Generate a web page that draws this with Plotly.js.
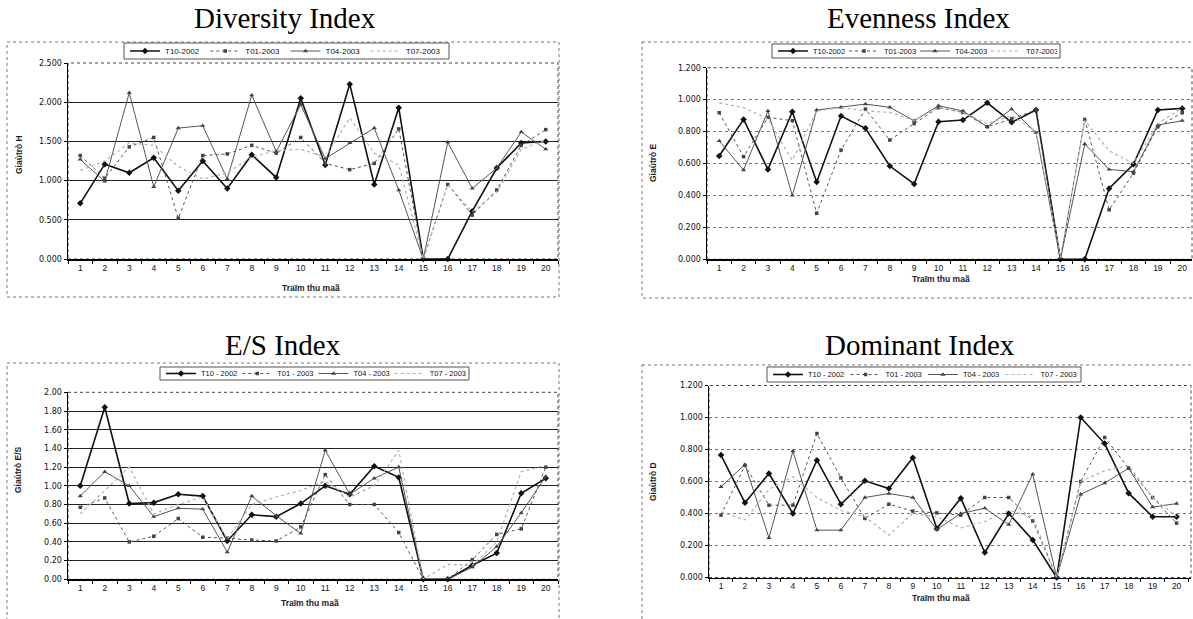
<!DOCTYPE html>
<html><head><meta charset="utf-8">
<script src="https://cdn.plot.ly/plotly-3.0.1.min.js"></script>
<style>html,body{margin:0;padding:0;background:#fff;overflow:hidden}#chart{width:1193px;height:619px}</style>
</head><body><div id="chart"></div><script>
// ---------------- DATA ----------------
const stations = ['1','2','3','4','5','6','7','8','9','10','11','12','13','14','15','16','17','18','19','20'];
const seriesNames = ['T10-2002','T01-2003','T04-2003','T07-2003'];
const seriesNamesSpaced = ['T10 - 2002','T01 - 2003','T04 - 2003','T07 - 2003'];

const diversityT10 = [0.71,1.21,1.10,1.29,0.87,1.25,0.90,1.33,1.04,2.05,1.20,2.23,0.95,1.93,0,0,0.61,1.16,1.48,1.50];
const diversityT01 = [1.32,1.03,1.43,1.55,0.52,1.32,1.34,1.45,1.35,1.55,1.22,1.14,1.22,1.66,0,0.95,0.56,0.88,1.45,1.65];
const diversityT04 = [1.27,0.99,2.12,0.92,1.67,1.70,1.02,2.09,1.37,1.97,1.28,1.48,1.67,0.88,0,1.49,0.90,1.16,1.62,1.40];
const diversityT07 = [1.13,1.25,1.48,1.45,1.18,1.02,1.10,1.30,1.38,1.40,1.30,1.80,1.35,1.20,0,0.95,0.60,0.85,1.40,1.52];

const evennessT10 = [0.647,0.876,0.563,0.924,0.484,0.897,0.82,0.584,0.472,0.862,0.872,0.98,0.858,0.935,0,0,0.444,0.595,0.935,0.945];
const evennessT01 = [0.918,0.643,0.889,0.868,0.288,0.684,0.941,0.747,0.85,0.95,0.92,0.83,0.88,0.935,0,0.876,0.31,0.54,0.83,0.918];
const evennessT04 = [0.741,0.559,0.929,0.40,0.935,0.952,0.972,0.952,0.868,0.962,0.929,0.83,0.941,0.793,0,0.722,0.563,0.549,0.841,0.868];
const evennessT07 = [0.98,0.95,0.88,0.62,0.93,0.95,0.93,0.92,0.87,0.95,0.92,0.85,0.90,0.80,0.01,0.87,0.68,0.60,0.85,0.95];

const esT10 = [1.00,1.84,0.81,0.82,0.91,0.89,0.41,0.69,0.67,0.81,1.00,0.91,1.21,1.09,0,0,0.15,0.28,0.92,1.08];
const esT01 = [0.77,0.87,0.40,0.46,0.65,0.45,0.44,0.42,0.41,0.56,1.12,0.80,0.80,0.50,0,0,0.21,0.48,0.54,1.20];
const esT04 = [0.89,1.15,1.00,0.67,0.76,0.75,0.29,0.89,0.68,0.49,1.38,0.91,1.08,1.20,0,0,0.13,0.35,0.71,1.10];
const esT07 = [0.70,0.95,1.20,0.70,0.80,0.88,0.43,0.80,0.88,0.95,1.05,0.88,1.00,1.38,0,0.16,0.15,0.40,1.15,1.22];

const dominantT10 = [0.765,0.467,0.65,0.40,0.733,0.458,0.604,0.556,0.748,0.306,0.496,0.156,0.40,0.235,0,1.00,0.837,0.527,0.38,0.38];
const dominantT01 = [0.39,0.70,0.452,0.452,0.90,0.623,0.369,0.458,0.415,0.404,0.39,0.50,0.50,0.354,0,0.60,0.875,0.683,0.50,0.34];
const dominantT04 = [0.567,0.706,0.248,0.79,0.296,0.296,0.50,0.525,0.50,0.30,0.40,0.433,0.33,0.646,0,0.52,0.59,0.683,0.44,0.462];
const dominantT07 = [0.41,0.36,0.55,0.63,0.50,0.42,0.38,0.265,0.40,0.38,0.31,0.35,0.42,0.38,0,0.60,0.667,0.70,0.50,0.38];

const ticks25 = [0,0.5,1,1.5,2,2.5];
const ticks25Text = ['0.000','0.500','1.000','1.500','2.000','2.500'];
const ticks12 = [0,0.2,0.4,0.6,0.8,1.0,1.2];
const ticks12Text = ['0.000','0.200','0.400','0.600','0.800','1.000','1.200'];
const ticks20 = [0,0.2,0.4,0.6,0.8,1.0,1.2,1.4,1.6,1.8,2.0];
const ticks20Text = ['0.00','0.20','0.40','0.60','0.80','1.00','1.20','1.40','1.60','1.80','2.00'];

const chartTitles = ['Diversity Index','Evenness Index','E/S Index','Dominant Index'];
const yTitles = ['Giaùtrò H','Giaùtrò E','Giaùtrò E/S','Giaùtrò D'];
const xTitle = 'Traïm thu maã';

// ---------------- LAYOUT HELPERS ----------------
const W = 1193, H = 619;
const px = x => x / W;
const py = y => 1 - y / H;

const panels = [
  {data:[diversityT10,diversityT01,diversityT04,diversityT07], names:seriesNames,
   xd:[68,558], yd:[63,259], xr:[-0.5,19.5], yr:[0,2.5], tv:ticks25, tt:ticks25Text,
   grid:{color:'#222', dash:'solid', width:1},
   frame:[7,42,559,297], leg:[124,43,449,59], legFont:8, title:[285,18], ytitle:[19,155], xtitle:[311,288]},
  {data:[evennessT10,evennessT01,evennessT04,evennessT07], names:seriesNames,
   xd:[707,1192], yd:[67.7,259.3], xr:[-0.5,19.4], yr:[0,1.2], tv:ticks12, tt:ticks12Text,
   grid:{color:'#777', dash:'dot', width:1},
   frame:[642,42,1200,298], leg:[772,44,1060,58], legFont:7.5, title:[918,18], ytitle:[653,163], xtitle:[941,279]},
  {data:[esT10,esT01,esT04,esT07], names:seriesNamesSpaced,
   xd:[68,558], yd:[392.3,579.3], xr:[-0.5,19.5], yr:[0,2], tv:ticks20, tt:ticks20Text,
   grid:{color:'#222', dash:'solid', width:1},
   frame:[7,363,559,630], leg:[160,367,469,380], legFont:7.5, title:[283,345], ytitle:[18,470], xtitle:[310,603]},
  {data:[dominantT10,dominantT01,dominantT04,dominantT07], names:seriesNamesSpaced,
   xd:[709,1191], yd:[385.5,577.5], xr:[-0.5,19.6], yr:[0,1.2], tv:ticks12, tt:ticks12Text,
   grid:{color:'#777', dash:'dot', width:1},
   frame:[642,365,1200,630], leg:[767,367,1081,382], legFont:7.5, title:[920,345], ytitle:[653,482], xtitle:[941,598]}
];

const styles = [
  {mode:'lines+markers', line:{color:'#111', width:1.6, dash:'solid'}, marker:{symbol:'diamond', size:5, color:'#111'}},
  {mode:'lines+markers', line:{color:'#555', width:1, dash:'dot'}, marker:{symbol:'square', size:3.5, color:'#444'}},
  {mode:'lines+markers', line:{color:'#555', width:1, dash:'solid'}, marker:{symbol:'triangle-up', size:4.5, color:'#444'}},
  {mode:'lines', line:{color:'#b0b0b0', width:1.2, dash:'dot'}}
];

const traces = [];
const layout = {
  width: W, height: H, margin:{l:0,r:0,t:0,b:0}, paper_bgcolor:'#fff', plot_bgcolor:'rgba(0,0,0,0)',
  showlegend:true, shapes:[], annotations:[]
};

panels.forEach((p, i) => {
  const sfx = i === 0 ? '' : String(i + 1);
  const legName = 'legend' + sfx;
  p.data.forEach((vals, s) => {
    traces.push(Object.assign({
      type:'scatter', x: stations, y: vals, name: p.names[s],
      xaxis:'x' + sfx, yaxis:'y' + sfx, legend: legName, cliponaxis:false,
      hoverinfo:'skip'
    }, JSON.parse(JSON.stringify(styles[s]))));
  });
  layout['xaxis' + sfx] = {
    type:'category', domain:[px(p.xd[0]), px(p.xd[1])], range:p.xr, anchor:'y' + sfx,
    showgrid:false, zeroline:false, showline:true, linecolor:'#000', linewidth:1.5,
    ticks:'outside', tickson:'boundaries', ticklen:3, tickcolor:'#000',
    tickfont:{family:'Liberation Sans, Arial, sans-serif', size:8.5, color:'#111'}, fixedrange:true
  };
  layout['yaxis' + sfx] = {
    domain:[py(p.yd[1]), py(p.yd[0])], range:p.yr, anchor:'x' + sfx,
    tickvals:p.tv, ticktext:p.tt, showgrid:true, gridcolor:p.grid.color, griddash:p.grid.dash, gridwidth:p.grid.width,
    zeroline:false, showline:true, linecolor:'#000', linewidth:1.5,
    ticks:'outside', ticklen:3, tickcolor:'#000',
    tickfont:{family:'DejaVu Sans, sans-serif', size:8, color:'#111'}, fixedrange:true
  };
  const spacing = (p.leg[2] - p.leg[0] - 4) / 4;
  layout[legName] = {
    x: px(p.leg[0] + 1), y: py((p.leg[1] + p.leg[3]) / 2), xanchor:'left', yanchor:'middle',
    orientation:'h', bgcolor:'rgba(0,0,0,0)', borderwidth:0,
    font:{family:'Liberation Sans, Arial, sans-serif', size:p.legFont, color:'#111'},
    entrywidth: spacing - 45, itemwidth:30, traceorder:'normal', tracegroupgap:0
  };
  // outer frame
  layout.shapes.push({type:'rect', xref:'paper', yref:'paper', x0:px(p.frame[0]), x1:px(p.frame[2]),
    y0:py(p.frame[1]), y1:py(p.frame[3]), line:{color:'#777', width:1, dash:'dot'}, layer:'below'});
  // plot area border (top/right)
  layout.shapes.push({type:'rect', xref:'paper', yref:'paper', x0:px(p.xd[0]), x1:px(p.xd[1]),
    y0:py(p.yd[1]), y1:py(p.yd[0]), line:{color:'#444', width:1, dash:'dot'}, layer:'below'});
  // legend box
  layout.shapes.push({type:'rect', xref:'paper', yref:'paper', x0:px(p.leg[0]), x1:px(p.leg[2]),
    y0:py(p.leg[3]), y1:py(p.leg[1]), line:{color:'#555', width:1}, fillcolor:'#fff', layer:'below'});
  // titles
  layout.annotations.push({text:chartTitles[i], xref:'paper', yref:'paper', x:px(p.title[0]), y:py(p.title[1]),
    xanchor:'center', yanchor:'middle', showarrow:false,
    font:{family:'Liberation Serif, Times New Roman, serif', size:29, color:'#000'}});
  layout.annotations.push({text:'<b>' + yTitles[i] + '</b>', xref:'paper', yref:'paper', x:px(p.ytitle[0]), y:py(p.ytitle[1]),
    xanchor:'center', yanchor:'middle', showarrow:false, textangle:-90,
    font:{family:'Liberation Sans, Arial, sans-serif', size:8.5, color:'#222'}});
  layout.annotations.push({text:'<b>' + xTitle + '</b>', xref:'paper', yref:'paper', x:px(p.xtitle[0]), y:py(p.xtitle[1]),
    xanchor:'center', yanchor:'middle', showarrow:false,
    font:{family:'Liberation Sans, Arial, sans-serif', size:8.5, color:'#222'}});
});

Plotly.newPlot('chart', traces, layout, {displayModeBar:false, staticPlot:true});
</script></body></html>
